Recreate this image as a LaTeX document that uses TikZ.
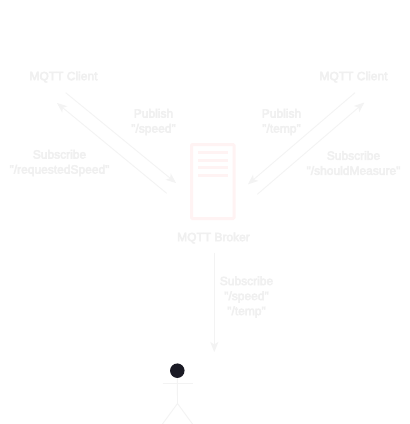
\documentclass[tikz,border=0pt]{standalone}
\usepackage{fontspec}
\setmainfont{Liberation Sans}
\newfontfamily\fauxbold[RawFeature={embolden=4}]{Liberation Sans}
\usetikzlibrary{arrows.meta}
\definecolor{faint}{HTML}{F0F0F0}
\definecolor{faintline}{HTML}{F3F3F3}
\definecolor{pinkish}{HTML}{FFF3F3}
\definecolor{headcol}{HTML}{1A1A24}
\tikzset{
  lbl/.style={font=\fauxbold\fontsize{12}{15}\selectfont,text=faint,align=center,inner sep=0pt},
  conn/.style={draw=faintline,line width=0.9pt,-{Stealth[length=10pt,width=8pt,inset=2.5pt]}},
  srv/.style={draw=pinkish,line width=3pt,rounded corners=1pt},
  srvline/.style={draw=pinkish,line width=3pt},
  limb/.style={draw=faintline,line width=0.9pt}
}
\begin{document}
\begin{tikzpicture}[x=1pt,y=-1pt]
\useasboundingbox (0,0) rectangle (410,424);
\fill[white] (0,0) rectangle (410,424);
\node[lbl] (clientL) at (63.5,77) {MQTT Client};
\node[lbl] (clientR) at (353.5,77) {MQTT Client};
\node[lbl] (broker) at (213.5,238) {MQTT Broker};
\node[lbl] (pubL) at (153.5,122) {Publish\\"/speed"};
\node[lbl] (subL) at (59.5,163) {Subscribe\\"/requestedSpeed"};
\node[lbl] (pubR) at (281.5,122) {Publish\\"/temp"};
\node[lbl] (subR) at (353.5,163) {Subscribe\\"/shouldMeasure"};
\node[lbl] (subB) at (246.5,297) {Subscribe\\"/speed"\\"/temp"};
\draw[srv] (191.5,144.5) rectangle (234,218.5);
\foreach \yy in {152,160,167.5,175} \draw[srvline] (198,\yy) -- (227.7,\yy);
\coordinate (a1s) at (65.7,92.7); \coordinate (a1e) at (176,183);
\coordinate (a2s) at (166.7,193.3); \coordinate (a2e) at (57,103);
\coordinate (a3s) at (355,92.7); \coordinate (a3e) at (248,184.3);
\coordinate (a4s) at (257.3,194.3); \coordinate (a4e) at (364.3,102.5);
\coordinate (a5s) at (214.3,252.7); \coordinate (a5e) at (214.3,352);
\draw[conn] (a1s) -- (a1e);
\draw[conn] (a2s) -- (a2e);
\draw[conn] (a3s) -- (a3e);
\draw[conn] (a4s) -- (a4e);
\draw[conn] (a5s) -- (a5e);
\node[circle,fill=headcol,minimum size=14.5pt,inner sep=0pt] (head) at (177.3,370.7) {};
\coordinate (hip) at (177.5,403.5);
\draw[limb] (head) -- (hip);
\draw[limb] (162.5,383.5) -- (192.5,383.5);
\draw[limb] (162.5,424) -- (hip) -- (192.5,424);
\end{tikzpicture}
\end{document}
